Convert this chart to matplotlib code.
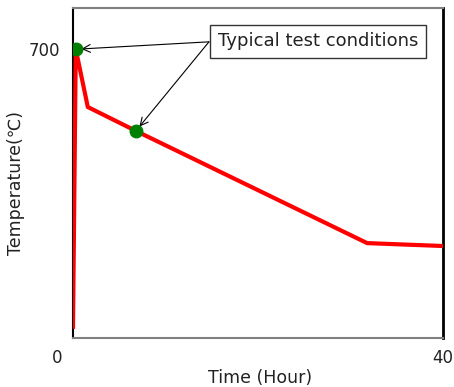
import matplotlib.pyplot as plt
from matplotlib.transforms import ScaledTranslation

# profile
time_h = [0.0, 0.3, 1.6, 6.8, 31.8, 40.0]
temp_c = [27, 700, 560, 502, 230, 223]
# typical test conditions
mark_t = [0.3, 6.8]
mark_T = [700, 502]

plt.rcParams['font.family'] = ['DejaVu Sans']

fig = plt.figure(figsize=(4.54, 3.87), dpi=100)
ax = fig.add_axes([73 / 454, 1 - 338 / 387, 370 / 454, 330 / 387])

ax.plot(time_h, temp_c, color='#ff0000', lw=3, solid_joinstyle='miter', zorder=3)
ax.plot(mark_t, mark_T, 'o', color='#008000', ms=9, zorder=4)

ax.set_xlim(0, 40)
ax.set_ylim(0, 800)
ax.set_xticks([0, 40])
ax.set_yticks([700])
ax.tick_params(length=0, labelsize=12, colors='#222222')
ax.tick_params(axis='x', pad=8)
ax.tick_params(axis='y', pad=9)
# the "0" sits left of the axis corner
lab0 = ax.get_xticklabels()[0]
lab0.set_transform(lab0.get_transform() + ScaledTranslation(-0.16, 0, fig.dpi_scale_trans))

for side in ['top', 'bottom']:
    ax.spines[side].set_color('#808080')
    ax.spines[side].set_linewidth(1.5)
ax.spines['left'].set_color('black')
ax.spines['left'].set_linewidth(1.5)
ax.spines['right'].set_color('black')
ax.spines['right'].set_linewidth(2)

ax.set_xlabel('Time (Hour)', fontsize=12.5, color='#222222')
ax.xaxis.set_label_coords(0.505, -0.095)
ax.set_ylabel('Temperature(℃)', fontsize=12.5, color='#222222')
ax.yaxis.set_label_coords(-0.13, 0.47)

txt_xy = (14.7, 718)
for t, T in zip(mark_t, mark_T):
    ax.annotate('', xy=(t, T), xytext=txt_xy,
                arrowprops=dict(arrowstyle='->', color='black', lw=0.8,
                                shrinkA=0, shrinkB=4, mutation_scale=14))
ax.text(26.5, 719, 'Typical test conditions', fontsize=13, ha='center', va='center',
        color='#222222',
        bbox=dict(boxstyle='square,pad=0.42', fc='white', ec='#333333', lw=1), zorder=5)

fig.savefig('out.png', dpi=100)
